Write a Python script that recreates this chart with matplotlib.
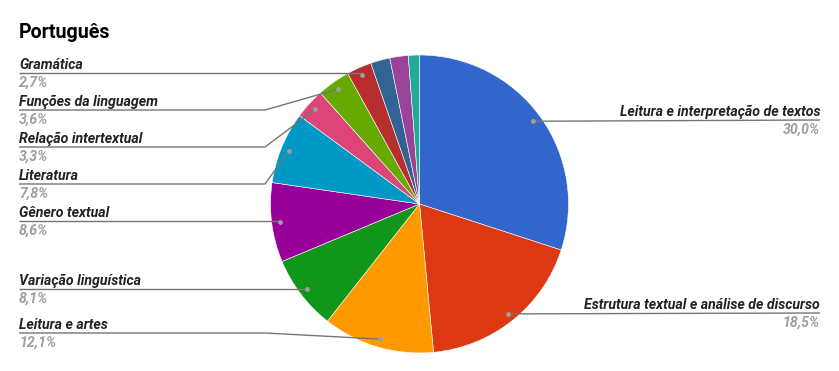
import numpy as np
import matplotlib.pyplot as plt

# Slices, clockwise from 12 o'clock
topics = [
    "Leitura e interpretação de textos",
    "Estrutura textual e análise de discurso",
    "Leitura e artes",
    "Variação linguística",
    "Gênero textual",
    "Literatura",
    "Relação intertextual",
    "Funções da linguagem",
    "Gramática",
    None,
    None,
    None,
]
shares = [30.0, 18.5, 12.1, 8.1, 8.6, 7.8, 3.3, 3.6, 2.7, 2.1, 2.0, 1.2]
colors = ["#3366cc", "#dc3912", "#ff9900", "#109618", "#990099", "#0099c6",
          "#dd4477", "#66aa00", "#b82e2e", "#316395", "#994499", "#22aa99"]

# label layout: (side, y of the leader line, x where it bends)
layout = {
    "Leitura e interpretação de textos": ("right", 120, None),
    "Estrutura textual e análise de discurso": ("right", 313, None),
    "Leitura e artes": ("left", 333, 265),
    "Variação linguística": ("left", 289, None),
    "Gênero textual": ("left", 221, None),
    "Literatura": ("left", 184, 265),
    "Relação intertextual": ("left", 147, 265),
    "Funções da linguagem": ("left", 110, 265),
    "Gramática": ("left", 73, None),
}

W, H = 839, 371
CX, CY, R = 419.5, 204, 149

fig = plt.figure(figsize=(W / 100, H / 100), dpi=100)
ax = fig.add_axes([0, 0, 1, 1])


def fy(y):
    return H - y


ax.pie(shares, colors=colors, startangle=90, counterclock=False,
       center=(CX, fy(CY)), radius=R,
       wedgeprops=dict(edgecolor="white", linewidth=0.4))
ax.set_xlim(0, W)
ax.set_ylim(0, H)
ax.set_aspect("equal")
ax.axis("off")

ax.text(19, fy(38), "Português", fontsize=14.1, fontweight="bold",
        family="Roboto", color="#000000", va="baseline")

total = sum(shares)
cum = np.cumsum([0] + shares[:-1])
for name, val, start in zip(topics, shares, cum):
    if name is None:
        continue
    side, ly, bend = layout[name]
    mid = np.deg2rad((start + val / 2) / total * 360)
    dx = CX + 0.945 * R * np.sin(mid)
    dy = CY - 0.945 * R * np.cos(mid)

    if side == "left":
        xs = [19, bend if bend else dx, dx]
        ys = [ly, ly, dy]
        tx, ha = 19, "left"
    else:
        xs = [dx, 820]
        ys = [dy, ly]
        tx, ha = 820, "right"
    ax.plot(xs, [fy(v) for v in ys], color="#757575", lw=1, zorder=3,
            solid_capstyle="butt")
    ax.plot(dx, fy(dy), "o", ms=3.5, color="#9e9e9e", mec="none", zorder=4)

    pct = f"{val:.1f}%".replace(".", ",")
    ax.text(tx, fy(ly - 4), name, ha=ha, va="baseline", fontsize=10.2,
            family="Roboto", style="italic", fontweight="bold", color="#222222")
    ax.text(tx, fy(ly + 13.5), pct, ha=ha, va="baseline", fontsize=10.2,
            family="Roboto", style="italic", fontweight="bold", color="#9e9e9e")

fig.savefig("out.png", dpi=100)
